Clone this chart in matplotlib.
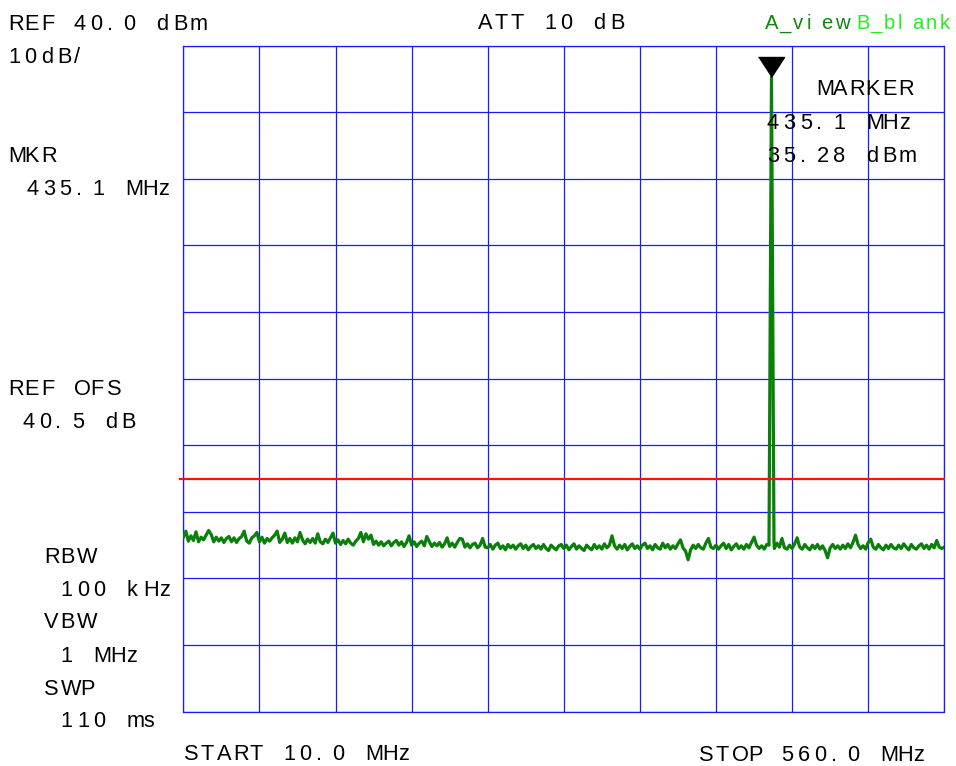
"""Spectrum analyzer screen: single carrier over the noise floor."""

from __future__ import annotations

import matplotlib

matplotlib.use("Agg")
import matplotlib.pyplot as plt
import numpy as np

W, H, DPI = 956, 766, 100

# Screen settings
START_MHZ = 10.0
STOP_MHZ = 560.0
REF_DBM = 40.0
DB_PER_DIV = 10.0
DISPLAY_LINE_DBM = -25.0

# Carrier (marker) points
PEAK_FREQS = [433.3, 435.1, 436.9]
PEAK_LEVELS = [-35.0, 35.28, -34.4]

# Noise floor (equally spaced from START to STOP)
NOISE_DBM = [
    -33.8, -32.9, -34.4, -33.6, -34.3, -33.0, -34.5, -33.8, -34.2, -33.5,
    -32.8, -33.4, -34.5, -33.8, -34.4, -33.9, -34.6, -34.0, -33.7, -34.5,
    -33.9, -34.6, -34.0, -33.7, -32.9, -34.4, -34.7, -33.9, -33.6, -33.1,
    -34.5, -33.8, -34.7, -34.0, -34.4, -33.9, -33.5, -32.9, -34.6, -34.1,
    -33.2, -34.6, -34.0, -34.7, -33.9, -34.5, -33.1, -34.2, -34.8, -34.1,
    -34.6, -34.0, -34.7, -33.3, -34.5, -34.8, -34.1, -34.6, -33.9, -33.2,
    -34.7, -34.2, -34.9, -34.3, -34.8, -34.1, -34.7, -35.0, -34.4, -34.0,
    -33.1, -34.5, -33.3, -34.1, -33.5, -34.9, -34.4, -35.0, -34.5, -35.1,
    -34.7, -34.4, -35.1, -34.6, -34.3, -35.0, -34.5, -35.2, -34.6, -33.6,
    -35.0, -34.5, -35.2, -34.7, -34.4, -35.1, -33.7, -34.5, -35.2, -34.7,
    -35.1, -34.6, -35.3, -34.8, -33.9, -35.2, -34.7, -35.3, -34.6, -34.0,
    -34.1, -35.3, -34.8, -35.4, -34.9, -34.7, -35.4, -35.0, -34.0, -35.3,
    -35.4, -34.9, -35.6, -35.0, -34.7, -35.5, -35.1, -35.7, -34.9, -35.4,
    -35.0, -35.6, -35.1, -34.8, -35.5, -35.0, -35.7, -35.2, -34.9, -35.5,
    -35.1, -35.6, -34.9, -35.5, -35.8, -35.0, -35.4, -35.7, -35.1, -34.9,
    -35.5, -35.0, -35.7, -35.2, -34.8, -35.6, -35.1, -35.5, -35.8, -35.0,
    -35.4, -35.7, -34.9, -35.5, -35.1, -35.6, -34.8, -35.4, -35.0, -33.6,
    -35.1, -35.6, -35.0, -35.5, -34.9, -35.7, -35.2, -34.8, -35.5, -35.1,
    -35.6, -35.0, -34.7, -35.5, -35.1, -35.7, -34.9, -35.4, -35.6, -34.7,
    -35.4, -34.9, -35.6, -35.1, -35.5, -34.8, -34.2, -35.4, -35.9, -37.2,
    -35.7, -35.0, -35.5, -34.9, -35.4, -35.6, -34.7, -34.0, -35.3, -35.5,
    -35.0, -35.6, -35.1, -34.7, -35.5, -34.9, -35.7, -35.2, -34.8, -35.5,
    -35.1, -35.6, -34.9, -35.4, -34.6, -33.8, -35.0, -35.5, -35.1, -35.6,
    -34.9, -35.2, -35.3, -35.5, -34.7, -35.3, -34.0, -35.4, -35.6, -35.0,
    -35.5, -34.8, -33.9, -35.3, -35.6, -34.9, -35.4, -35.7, -35.0, -35.5,
    -34.9, -35.6, -35.1, -35.8, -36.9, -35.4, -34.9, -35.5, -35.1, -35.6,
    -35.0, -35.5, -34.8, -35.4, -34.6, -33.5, -34.9, -35.5, -35.1, -35.6,
    -34.6, -34.1, -35.3, -35.6, -34.9, -35.4, -35.7, -35.0, -35.5, -34.9,
    -35.4, -35.6, -35.0, -35.5, -34.8, -35.3, -35.7, -34.9, -35.4, -35.6,
    -35.1, -34.8, -35.5, -35.0, -35.6, -34.9, -35.4, -34.3, -35.3, -35.5,
    -35.3,
]

# Annotation text: (x px, baseline px, text, colour, pitch px, size pt)
LABELS = [
    (8, 30, "REF 40.0 dBm", "black", 16.5, 15.7),
    (8, 63, "10dB/", "black", 16.5, 15.7),
    (8, 162, "MKR", "black", 16.5, 15.7),
    (10, 195, " 435.1 MHz", "black", 16.5, 15.7),
    (8, 395, "REF OFS", "black", 16.5, 15.7),
    (6, 428, " 40.5 dB", "black", 16.5, 15.7),
    (44, 563, "RBW", "black", 16.5, 15.7),
    (44, 596, " 100 kHz", "black", 16.5, 15.7),
    (44, 628, "VBW", "black", 16.5, 15.7),
    (44, 662, " 1 MHz", "black", 16.5, 15.7),
    (44, 695, "SWP", "black", 16.5, 15.7),
    (44, 727, " 110 ms", "black", 16.5, 15.7),
    (478, 29, "ATT 10 dB", "black", 16.5, 15.7),
    (765, 29, "A_view", "#0a8a0a", 14.0, 14.6),
    (856, 29, "B_blank", "#22ee22", 14.0, 14.6),
    (816, 95, "MARKER", "black", 16.5, 15.7),
    (767, 129, "435.1 MHz", "black", 16.5, 15.7),
    (767, 162, "35.28 dBm", "black", 16.5, 15.7),
    (184, 760, "START 10.0 MHz", "black", 16.5, 15.7),
    (699, 761, "STOP 560.0 MHz", "black", 16.5, 15.7),
]

# glyphs wider than one cell push the next one a little
KERN_AFTER = {"W": 3.0}

GRID_LEFT, GRID_RIGHT = 183.3, 944.3
GRID_TOP, GRID_BOTTOM = 45.5, 711.7


def term_text(ax, x, y, s, color, pitch, size):
    """Draw text the way the analyzer does: one glyph per fixed-width cell."""
    extra = 0.0
    for i, ch in enumerate(s):
        if ch != " ":
            ax.text(x + i * pitch + extra, y, ch, ha="left", va="baseline",
                    fontsize=size, color=color, family="Liberation Sans")
        extra += KERN_AFTER.get(ch, 0.0)


def plot_screen() -> plt.Figure:
    fig = plt.figure(figsize=(W / DPI, H / DPI), dpi=DPI)
    fig.patch.set_facecolor("white")

    ax = fig.add_axes([
        GRID_LEFT / W,
        1 - GRID_BOTTOM / H,
        (GRID_RIGHT - GRID_LEFT) / W,
        (GRID_BOTTOM - GRID_TOP) / H,
    ])
    bottom = REF_DBM - 10 * DB_PER_DIV
    ax.set_xlim(START_MHZ, STOP_MHZ)
    ax.set_ylim(bottom, REF_DBM)
    ax.set_xticks(np.linspace(START_MHZ, STOP_MHZ, 11))
    ax.set_yticks(np.linspace(bottom, REF_DBM, 11))
    ax.tick_params(length=0, labelbottom=False, labelleft=False)
    ax.grid(True, color="#1a1aff", linewidth=0.9)
    for sp in ax.spines.values():
        sp.set_color("#1a1aff")
        sp.set_linewidth(0.9)

    # noise floor with the carrier spliced in
    freq = np.linspace(START_MHZ, STOP_MHZ, len(NOISE_DBM))
    level = np.array(NOISE_DBM)
    keep = (freq < PEAK_FREQS[0]) | (freq > PEAK_FREQS[-1])
    f = np.concatenate([freq[keep], PEAK_FREQS])
    lv = np.concatenate([level[keep], PEAK_LEVELS])
    order = np.argsort(f)
    ax.plot(f[order], lv[order], color="#0a7f0a", linewidth=2.3, zorder=3)

    ax.axhline(DISPLAY_LINE_DBM, xmin=-0.004, xmax=1.0, color="#ff1010",
               linewidth=1.6, zorder=4, clip_on=False)

    # marker triangle, tip on the peak
    tri = [(-0.65, 1.0), (0.65, 1.0), (0.0, 0.0)]
    ax.plot([PEAK_FREQS[1]], [PEAK_LEVELS[1]], marker=tri, markersize=28.8,
            color="black", linestyle="none", zorder=5, clip_on=False)

    ov = fig.add_axes([0, 0, 1, 1], zorder=10)
    ov.set_xlim(0, W)
    ov.set_ylim(H, 0)
    ov.set_axis_off()
    ov.patch.set_alpha(0)
    for x, y, s, c, pitch, size in LABELS:
        term_text(ov, x, y, s, c, pitch, size)

    return fig


if __name__ == "__main__":
    fig = plot_screen()
    fig.savefig("out.png", dpi=DPI)
